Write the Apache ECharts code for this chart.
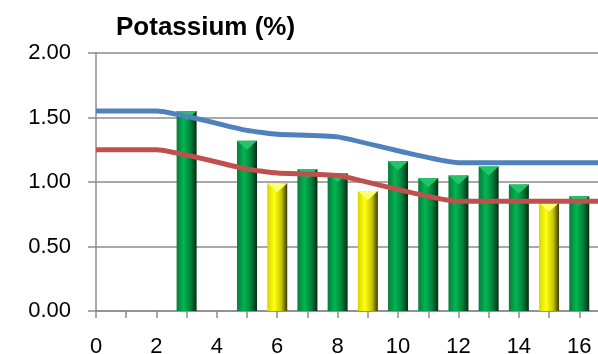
<!DOCTYPE html>
<html>
<head>
<meta charset="utf-8">
<script src="https://cdn.jsdelivr.net/npm/echarts@6/dist/echarts.min.js"></script>
<style>
  html, body { margin: 0; padding: 0; background: #fff; }
  #chart { width: 598px; height: 354px; }
</style>
</head>
<body>
<div id="chart"></div>
<script>
// bar positions on the x axis and their values
const barX = [3, 5, 6, 7, 8, 9, 10, 11, 12, 13, 14, 15, 16]
const barVals = [1.55, 1.32, 0.99, 1.10, 1.07, 0.93, 1.16, 1.03, 1.05, 1.12, 0.98, 0.84, 0.89]
// g = green, y = yellow
const barKind = ['g', 'g', 'y', 'g', 'g', 'y', 'g', 'g', 'g', 'g', 'g', 'y', 'g']

// upper (blue) and lower (red) reference lines
const upperX = [0, 2, 5, 6, 8, 12, 17]
const upperVals = [1.55, 1.55, 1.40, 1.37, 1.35, 1.15, 1.15]
const lowerX = [0, 2, 5, 6, 8, 12, 17]
const lowerVals = [1.25, 1.25, 1.10, 1.07, 1.05, 0.85, 0.85]

const xTicks = [0, 1, 2, 3, 4, 5, 6, 7, 8, 9, 10, 11, 12, 13, 14, 15, 16]
const xLabels = [0, 2, 4, 6, 8, 10, 12, 14, 16]

const greenFill = new echarts.graphic.LinearGradient(0, 0, 1, 0, [
  { offset: 0, color: '#0a7a3a' },
  { offset: 0.35, color: '#00b652' },
  { offset: 0.7, color: '#00803a' },
  { offset: 1, color: '#0b2a14' }
])
const yellowFill = new echarts.graphic.LinearGradient(0, 0, 1, 0, [
  { offset: 0, color: '#d6d600' },
  { offset: 0.35, color: '#ffff10' },
  { offset: 0.7, color: '#c8c800' },
  { offset: 1, color: '#3a3a00' }
])

const gridGray = '#8c8c8c'
const font = '"Liberation Sans", Arial, sans-serif'

const chart = echarts.init(document.getElementById('chart'), null, { renderer: 'canvas' })

chart.setOption({
  animation: false,
  title: {
    text: 'Potassium (%)',
    left: 111,
    top: 10,
    textStyle: { fontFamily: font, fontSize: 26, fontWeight: 'bold', color: '#000' }
  },
  grid: { left: 96, right: 0, top: 53, bottom: 43, outerBoundsMode: 'none', containLabel: false },
  xAxis: {
    type: 'value',
    min: 0,
    max: 16.62,
    interval: 1,
    axisLine: { lineStyle: { color: gridGray, width: 1.5 } },
    axisTick: { show: true, length: 7, customValues: xTicks, lineStyle: { color: gridGray, width: 1.5 } },
    axisLabel: {
      customValues: xLabels,
      margin: 25,
      fontFamily: font,
      fontSize: 22,
      color: '#000'
    },
    splitLine: { show: false }
  },
  yAxis: {
    type: 'value',
    min: 0,
    max: 2,
    interval: 0.5,
    axisLine: { show: true, lineStyle: { color: gridGray, width: 1.5 } },
    axisTick: { show: true, length: 8, lineStyle: { color: gridGray, width: 1.5 } },
    axisLabel: {
      margin: 25,
      fontFamily: font,
      fontSize: 22,
      color: '#000',
      formatter: v => v.toFixed(2)
    },
    splitLine: { lineStyle: { color: gridGray, width: 1.5 } }
  },
  series: [
    {
      type: 'bar',
      barWidth: 20,
      z: 2,
      data: barX.map((x, i) => ({
        value: [x, barVals[i]],
        itemStyle: { color: barKind[i] === 'y' ? yellowFill : greenFill }
      }))
    },
    {
      // bevelled top of each bar
      type: 'scatter',
      symbol: 'triangle',
      symbolRotate: 180,
      symbolSize: [20, 9],
      symbolOffset: [0, 4.5],
      z: 3,
      silent: true,
      data: barX.map((x, i) => ({
        value: [x, barVals[i]],
        itemStyle: { color: barKind[i] === 'y' ? '#ffff70' : '#22c468', opacity: 1 }
      }))
    },
    {
      type: 'line',
      z: 5,
      smooth: 0.15,
      showSymbol: false,
      lineStyle: { color: '#4f81bd', width: 5 },
      data: upperX.map((x, i) => [x, upperVals[i]])
    },
    {
      type: 'line',
      z: 5,
      smooth: 0.15,
      showSymbol: false,
      lineStyle: { color: '#c0504d', width: 5 },
      data: lowerX.map((x, i) => [x, lowerVals[i]])
    }
  ]
})
</script>
</body>
</html>
